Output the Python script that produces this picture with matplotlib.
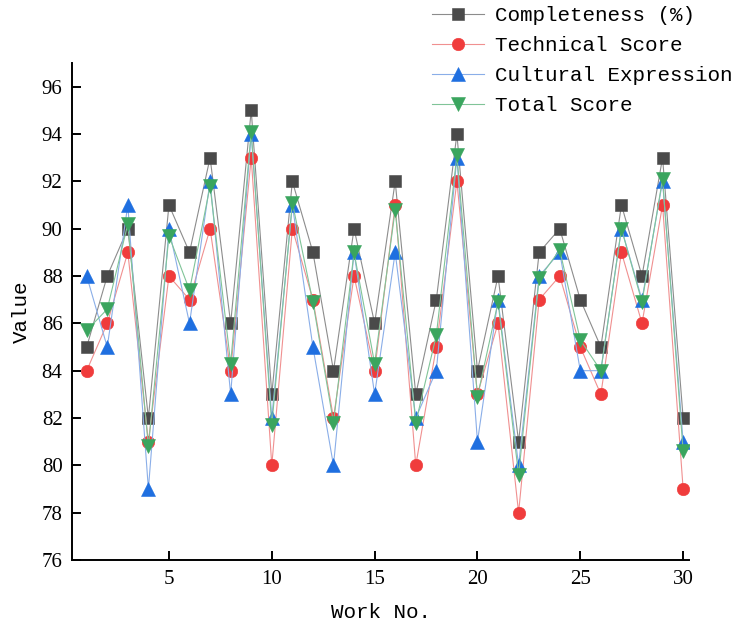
import matplotlib.pyplot as plt

works = list(range(1, 31))
completeness = [85, 88, 90, 82, 91, 89, 93, 86, 95, 83, 92, 89, 84, 90, 86,
                92, 83, 87, 94, 84, 88, 81, 89, 90, 87, 85, 91, 88, 93, 82]
technical = [84, 86, 89, 81, 88, 87, 90, 84, 93, 80, 90, 87, 82, 88, 84,
             91, 80, 85, 92, 83, 86, 78, 87, 88, 85, 83, 89, 86, 91, 79]
cultural = [88, 85, 91, 79, 90, 86, 92, 83, 94, 82, 91, 85, 80, 89, 83,
            89, 82, 84, 93, 81, 87, 80, 88, 89, 84, 84, 90, 87, 92, 81]
total = [85.7, 86.6, 90.2, 80.8, 89.7, 87.4, 91.8, 84.3, 94.1, 81.7,
         91.1, 86.9, 81.8, 89.0, 84.3, 90.8, 81.8, 85.5, 93.1, 82.9,
         86.9, 79.6, 87.9, 89.1, 85.3, 84.0, 90.0, 86.9, 92.1, 80.6]

series = [
    ("Completeness (%)", completeness, "s", "#4a4a4a", "#8c8c8c", 8.5),
    ("Technical Score", technical, "o", "#f03c3c", "#f09090", 9),
    ("Cultural Expression", cultural, "^", "#1f6fe0", "#8aaee8", 9.5),
    ("Total Score", total, "v", "#3aa55e", "#80c498", 9.5),
]

mono = "Liberation Mono"
serif = "Liberation Serif"

fig = plt.figure(figsize=(7.46, 6.3), dpi=100)
ax = fig.add_axes([0.0969, 0.1111, 0.8271, 0.7889])

for name, vals, mk, mcol, lcol, ms in series:
    ax.plot(works, vals, color=lcol, lw=0.8, marker=mk, markersize=ms,
            markerfacecolor=mcol, markeredgecolor=mcol, markeredgewidth=0.4,
            label=name)

ax.set_xlim(0.3, 30.3)
ax.set_ylim(76, 97)
ax.set_xticks([5, 10, 15, 20, 25, 30])
ax.set_yticks(range(76, 97, 2))
ax.spines['top'].set_visible(False)
ax.spines['right'].set_visible(False)
for s in ['left', 'bottom']:
    ax.spines[s].set_linewidth(1.4)
ax.tick_params(direction='in', length=6.5, width=1.4, pad=7)
for lab in ax.get_xticklabels() + ax.get_yticklabels():
    lab.set_fontfamily(serif)
    lab.set_fontsize(15)

ax.set_xlabel("Work No.", fontfamily=mono, fontsize=15, labelpad=10)
ax.set_ylabel("Value", fontfamily=mono, fontsize=15, labelpad=8)

fig.legend(loc='upper left', bbox_to_anchor=(0.579, 0.99), frameon=False,
           prop={'family': mono, 'size': 15}, borderpad=0, borderaxespad=0,
           handlelength=2.5, handletextpad=0.55, labelspacing=0.53)

fig.savefig("out.png", dpi=100)
